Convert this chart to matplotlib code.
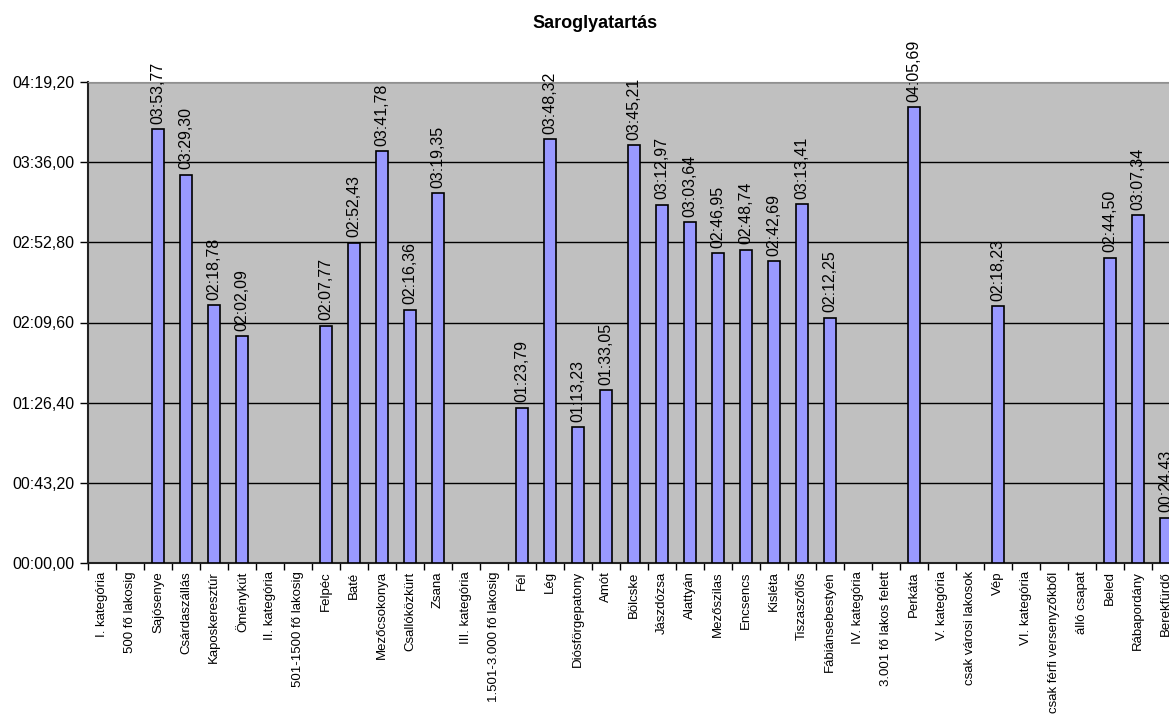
import matplotlib
matplotlib.use("Agg")
import matplotlib.pyplot as plt
from matplotlib.ticker import FixedLocator, FuncFormatter

plt.rcParams['font.family'] = ['Liberation Sans', 'DejaVu Sans']

categories = [
    "I. kategória", "500 fő lakosig", "Sajósenye", "Csárdaszállás", "Kaposkeresztúr",
    "Öménykút", "II. kategória", "501-1500 fő lakosig", "Felpéc", "Baté",
    "Mezőcsokonya", "Csallóközkürt", "Zsana", "III. kategória", "1.501-3.000 fő lakosig",
    "Fél", "Lég", "Diósförgepatony", "Amót", "Bölcske",
    "Jászdózsa", "Alattyán", "Mezőszilas", "Encsencs", "Kisléta",
    "Tiszaszőlős", "Fábiánsebestyén", "IV. kategória", "3.001 fő lakos felett", "Perkáta",
    "V. kategória", "csak városi lakosok", "Vép", "VI. kategória", "csak férfi versenyzőkből",
    "álló csapat", "Beled", "Rábapordány", "Berekfürdő",
]

# times as "mm:ss,hh" strings, None where there is no bar
times = [
    None, None, "03:53,77", "03:29,30", "02:18,78",
    "02:02,09", None, None, "02:07,77", "02:52,43",
    "03:41,78", "02:16,36", "03:19,35", None, None,
    "01:23,79", "03:48,32", "01:13,23", "01:33,05", "03:45,21",
    "03:12,97", "03:03,64", "02:46,95", "02:48,74", "02:42,69",
    "03:13,41", "02:12,25", None, None, "04:05,69",
    None, None, "02:18,23", None, None,
    None, "02:44,50", "03:07,34", "00:24,43",
]

y_ticks = [0, 43.2, 86.4, 129.6, 172.8, 216.0, 259.2]


def to_seconds(s):
    m, rest = s.split(":")
    return int(m) * 60 + float(rest.replace(",", "."))


def fmt_time(sec, pos=None):
    m = int(sec // 60)
    s = sec - m * 60
    return f"{m:02d}:{s:05.2f}".replace(".", ",")


fig = plt.figure(figsize=(11.69, 7.15), dpi=100)
ax = fig.add_axes([88 / 1169, 152 / 715, 1 - 88 / 1169, 481 / 715])
ax.set_facecolor("#c0c0c0")

xs = [i for i, t in enumerate(times) if t is not None]
vals = [to_seconds(times[i]) for i in xs]
ax.bar(xs, vals, width=0.4, color="#9999ff", edgecolor="black", linewidth=1.2, zorder=3)

for x, t, v in zip(xs, [times[i] for i in xs], vals):
    ax.annotate(t, (x, v), xytext=(0, 4), textcoords="offset points",
                rotation=90, ha="center", va="bottom", fontsize=11.5,
                annotation_clip=False)

ax.yaxis.set_major_locator(FixedLocator(y_ticks))
ax.yaxis.set_major_formatter(FuncFormatter(fmt_time))
ax.grid(axis="y", color="black", linewidth=1, zorder=1)
ax.set_axisbelow(True)

ax.set_xticks(range(len(categories)))
ax.set_xticklabels(categories, rotation=90, fontsize=9.5)
ax.tick_params(axis="x", length=0, pad=6)
ax.set_xticks([i + 0.5 for i in range(-1, len(categories))], minor=True)
ax.tick_params(axis="x", which="minor", length=5, width=1, direction="out")
ax.tick_params(axis="y", length=6, width=1, labelsize=11.5, pad=4)

# limits after the ticks, set_xticks would widen them
ax.set_xlim(-0.5, 38.11)
ax.set_ylim(0, 259.2)

for side in ["left", "bottom"]:
    ax.spines[side].set_color("#222222")
    ax.spines[side].set_linewidth(1.5)
ax.spines["top"].set_color("#909090")
ax.spines["right"].set_visible(False)

fig.text(595 / 1169, 1 - 28 / 715, "Saroglyatartás", ha="center", va="baseline",
         fontsize=13, fontweight="bold")

fig.savefig("out.png", dpi=100)
